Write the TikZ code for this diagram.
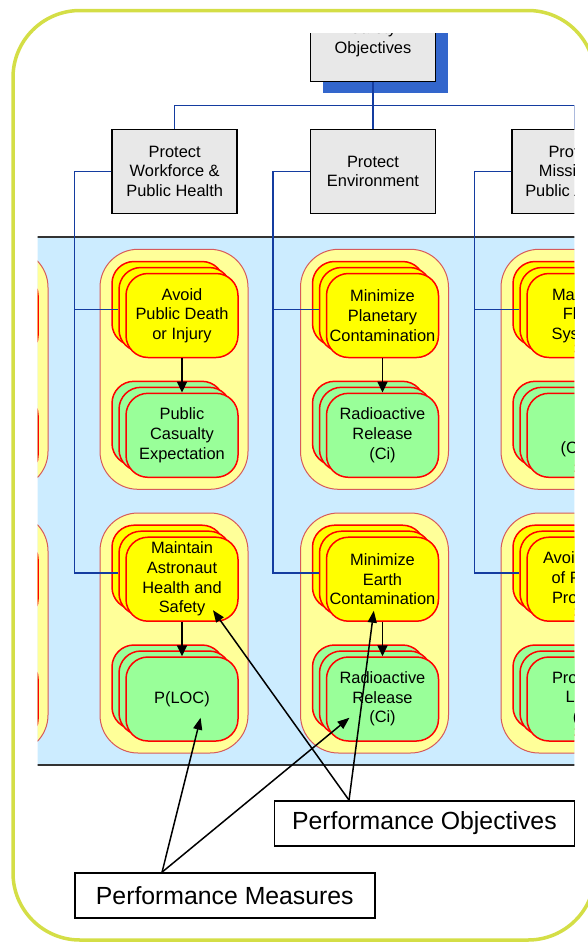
\documentclass[tikz,border=0pt]{standalone}
\usepackage{fontspec}
\setmainfont{Liberation Sans}
\usetikzlibrary{shadows,arrows.meta,calc}
\definecolor{rimgreen}{RGB}{212,222,70}
\definecolor{bandblue}{RGB}{204,236,255}
\definecolor{potyellow}{RGB}{255,255,153}
\definecolor{potred}{RGB}{215,90,90}
\definecolor{objyellow}{RGB}{255,255,0}
\definecolor{pmgreen}{RGB}{153,255,153}
\definecolor{boxgray}{RGB}{232,232,232}
\definecolor{linkblue}{RGB}{20,60,160}
\definecolor{dropblue}{RGB}{51,102,204}

\begin{document}
\begin{tikzpicture}[x=1bp,y=-1bp,
  font=\fontsize{16.4bp}{19.7bp}\selectfont,
  goal/.style={draw,line width=1.5bp,fill=boxgray,minimum width=125bp,minimum height=84bp,inner sep=0pt,align=center},
  pot/.style={draw=potred,line width=1bp,fill=potyellow,rounded corners=38bp,minimum width=148bp,minimum height=240bp},
  card/.style={draw=red,line width=1.5bp,rounded corners=22bp,minimum width=112bp,minimum height=84bp,inner sep=0pt,align=center,
    copy shadow={shadow xshift=-14bp,shadow yshift=12bp},
    copy shadow={shadow xshift=-7bp,shadow yshift=6bp}},
  obj/.style={card,fill=objyellow},
  pm/.style={card,fill=pmgreen},
  note/.style={draw,line width=1.5bp,minimum width=300bp,minimum height=45bp,font=\fontsize{24.8bp}{30bp}\selectfont},
  link/.style={draw=linkblue,line width=1.5bp},
  pointer/.style={draw,line width=1.5bp,-{Triangle[length=12bp,width=9bp]}}]
\useasboundingbox (0,0) rectangle (588,943);
\draw[rimgreen,line width=3.5bp,rounded corners=67bp] (13,10.5) rectangle (595,940);

\begin{scope}
\clip (37.5,33.3) rectangle (574.3,790);
\path[fill=bandblue,draw=black!80,line width=1.5bp] (0,237) rectangle (600,765);

% goal tree
\node[goal,drop shadow={shadow xshift=12.5bp,shadow yshift=-12bp,fill=dropblue,opacity=1}] (so) at (373,39.3) {Safety\\Objectives};
\node[goal] (w1) at (174.7,171.3) {Protect\\Workforce \&\\Public Health};
\node[goal] (w2) at (373,171.3) {Protect\\Environment};
\node[goal] (w3) at (574.5,171.3) {Protect\\Mission \&\\Public Assets};
\path[link] (so) -- (w2);
\path[link] (w1.north) -- ++(0,-23.3) -| (w3.north);

% objective / measure pots
\node[pot] (c01) at (-26,369.3) {};
\node[pot] (c11) at (174,369.3) {};
\node[pot] (c21) at (374.5,369.3) {};
\node[pot] (c31) at (575,369.3) {};
\node[pot] (c02) at (-26,633) {};
\node[pot] (c12) at (174,633) {};
\node[pot] (c22) at (374.5,633) {};
\node[pot] (c32) at (575,633) {};

\node[obj] (o01) at (-18,315.5) {};
\node[pm] (m01) at (-18,435.3) {};
\node[obj] (o02) at (-18,579.2) {};
\node[pm] (m02) at (-18,699) {};

\node[obj] (o11) at (182,315.5) {Avoid\\Public Death\\or Injury};
\node[pm] (m11) at (182,435.3) {Public\\Casualty\\Expectation};
\node[obj] (o12) at (182,579.2) {Maintain\\Astronaut\\Health and\\Safety};
\node[pm] (m12) at (182,699) {P(LOC)};

\node[obj] (o21) at (382.5,315.5) {Minimize\\Planetary\\Contamination};
\node[pm] (m21) at (382.5,435.3) {Radioactive\\Release\\(Ci)};
\node[obj] (o22) at (382.5,579.2) {Minimize\\Earth\\Contamination};
\node[pm] (m22) at (382.5,699) {Radioactive\\Release\\(Ci)};

\node[obj] (o31) at (583,315.5) {Maintain\\Flight\\Systems};
\node[pm] (m31) at (583,435.3) {\mbox{}\\\mbox{}\\(Cost)};
\node[obj] (o32) at (583,579.2) {Avoid Loss\\of Public\\Property};
\node[pm] (m32) at (583,699) {Property\\Loss\\(\$)};

\path[draw,line width=1.8bp,-{Triangle[length=11bp,width=10bp]}] (o11) -- (m11);
\path[draw,line width=1.8bp,-{Triangle[length=11bp,width=10bp]}] (o12) -- (m12);
\path[draw,line width=1.8bp,-{Triangle[length=11bp,width=10bp]}] (o21) -- (m21);
\path[draw,line width=1.8bp,-{Triangle[length=11bp,width=10bp]}] (o22) -- (m22);

\path[link] (w1.west) -- ++(-37,0) |- ([shift={(-7,-6)}]o11.west);
\path[link] (w1.west) -- ++(-37,0) |- ([shift={(-7,-6)}]o12.west);
\path[link] (w2.west) -- ++(-37,0) |- ([shift={(-7,-6)}]o21.west);
\path[link] (w2.west) -- ++(-37,0) |- ([shift={(-7,-6)}]o22.west);
\path[link] (w3.west) -- ++(-37,0) |- ([shift={(-7,-6)}]o31.west);
\path[link] (w3.west) -- ++(-37,0) |- ([shift={(-7,-6)}]o32.west);
\end{scope}

% call-outs
\node[note] (po) at (424.4,823.4) {Performance Objectives};
\node[note] (pms) at (224.8,895.4) {Performance Measures};
\coordinate (po1) at ($(po.north west)!0.25!(po.north east)$);
\coordinate (pm1) at ([xshift=88bp]pms.north west);
\path[pointer] (po1) -- ([shift={(31,31)}]o12.center);
\path[pointer] (po1) -- ([shift={(-8.7,31.5)}]o22.center);
\path[pointer] (pm1) -- ([shift={(18.6,18.7)}]m12.center);
\path[pointer] (pm1) -- ([shift={(-33,18.7)}]m22.center);
\end{tikzpicture}
\end{document}
